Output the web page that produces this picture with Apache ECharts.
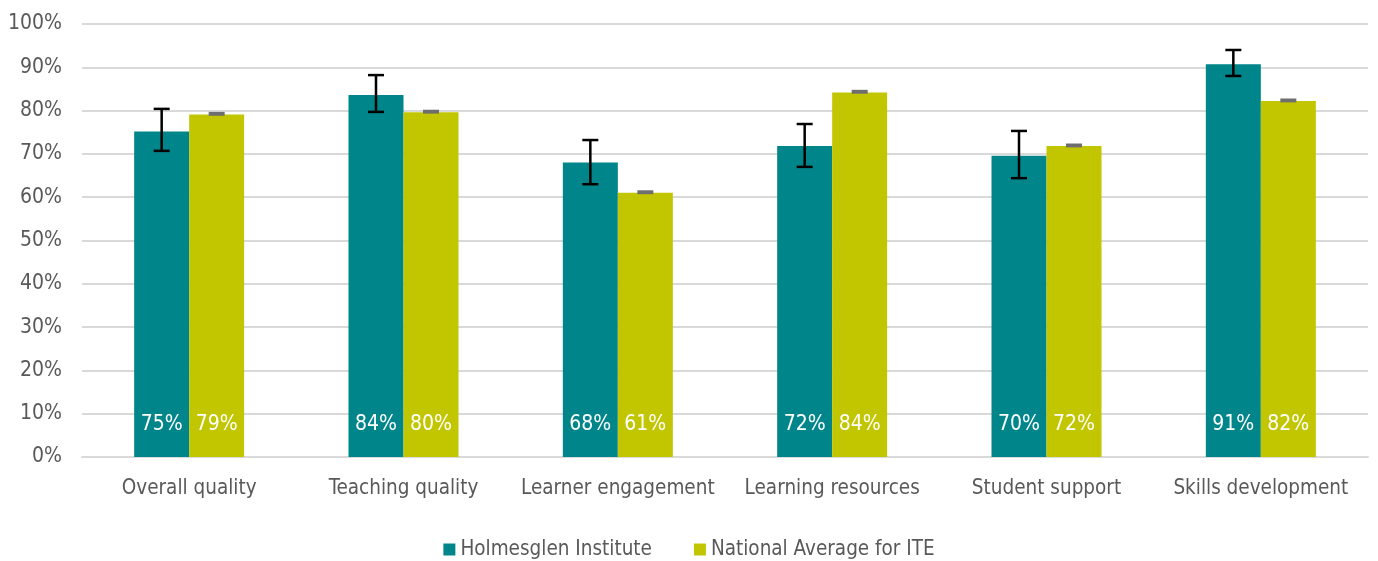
<!DOCTYPE html>
<html><head><meta charset="utf-8">
<script src="https://cdn.jsdelivr.net/npm/echarts@6/dist/echarts.min.js"></script>
<style>html,body{margin:0;padding:0;background:#fff}#c{width:1378px;height:561px}</style>
</head><body><div id="c"></div>
<script>
const categories = ['Overall quality','Teaching quality','Learner engagement','Learning resources','Student support','Skills development'];
const seriesNames = ['Holmesglen Institute','National Average for ITE'];
const holmesglen = [75.2, 83.6, 68.0, 71.8, 69.6, 90.7];
const holmesglenLow = [70.7, 79.7, 63.0, 67.0, 64.4, 88.0];
const holmesglenHigh = [80.4, 88.2, 73.2, 76.9, 75.3, 94.0];
const national = [79.1, 79.6, 61.0, 84.2, 71.8, 82.2];
const nationalLow = [78.8, 79.3, 60.7, 83.9, 71.5, 81.9];
const nationalHigh = [79.7, 80.2, 61.6, 84.8, 72.4, 82.8];
const yTicks = [0,10,20,30,40,50,60,70,80,90,100];

const FONT = '"Liberation Sans Narrow","DejaVu Sans Condensed","Liberation Sans",sans-serif';
const BAR_W = 55;
const TEAL = '#00868a', LIME = '#c2c600';

function errItem(offset, color, lw, capHalf, asRect) {
  return function(params, api) {
    const i = api.value(0);
    const lo = api.coord([i, api.value(1)]);
    const hi = api.coord([i, api.value(2)]);
    const x = lo[0] + offset;
    if (asRect) {
      return {type: 'rect', shape: {x: x - capHalf, y: hi[1], width: capHalf * 2, height: lo[1] - hi[1]},
        style: {fill: color}};
    }
    const style = {stroke: color, lineWidth: lw, fill: null};
    return {type: 'group', children: [
      {type: 'line', shape: {x1: x, y1: lo[1], x2: x, y2: hi[1]}, style},
      {type: 'line', shape: {x1: x - capHalf, y1: lo[1], x2: x + capHalf, y2: lo[1]}, style},
      {type: 'line', shape: {x1: x - capHalf, y1: hi[1], x2: x + capHalf, y2: hi[1]}, style}
    ]};
  };
}

const chart = echarts.init(document.getElementById('c'), null, {renderer: 'canvas'});
const labelCfg = {show: true, position: 'insideBottom', distance: 22, color: '#fff', fontSize: 21, fontFamily: FONT,
  formatter: p => Math.round(p.value) + '%'};
chart.setOption({
  animation: false,
  textStyle: {fontFamily: FONT},
  grid: {left: 82, right: 10, top: 24, bottom: 104, containLabel: false},
  legend: {top: 534, left: 'center', itemWidth: 12, itemHeight: 12, itemGap: 42, icon: 'rect', itemTextGap: 4,
    textStyle: {fontSize: 20.5, color: '#595959', fontFamily: FONT},
    data: seriesNames},
  xAxis: {type: 'category', data: categories,
    axisLine: {lineStyle: {color: '#d9d9d9', width: 2}}, axisTick: {show: false},
    axisLabel: {fontSize: 20.5, color: '#595959', margin: 21, fontFamily: FONT, interval: 0}},
  yAxis: {type: 'value', min: 0, max: 100, interval: 10,
    axisLine: {show: false}, axisTick: {show: false},
    axisLabel: {fontSize: 21, color: '#595959', margin: 20, fontFamily: FONT, formatter: v => v + '%'},
    splitLine: {lineStyle: {color: '#d9d9d9', width: 2}}},
  series: [
    {name: seriesNames[0], type: 'bar', data: holmesglen, barWidth: BAR_W, barGap: '0%',
      itemStyle: {color: TEAL}, label: labelCfg, z: 2},
    {name: seriesNames[1], type: 'bar', data: national, barWidth: BAR_W, barGap: '0%',
      itemStyle: {color: LIME}, label: labelCfg, z: 2},
    {type: 'custom', name: 'errH', z: 5, silent: true,
      renderItem: errItem(-BAR_W/2, '#000', 2.5, 8, false),
      data: categories.map((c, i) => [i, holmesglenLow[i], holmesglenHigh[i]]), encode: {x: 0, y: [1, 2]}},
    {type: 'custom', name: 'errN', z: 5, silent: true,
      renderItem: errItem(BAR_W/2, '#6e6e6e', 2, 8, true),
      data: categories.map((c, i) => [i, nationalLow[i], nationalHigh[i]]), encode: {x: 0, y: [1, 2]}}
  ]
});
</script></body></html>
